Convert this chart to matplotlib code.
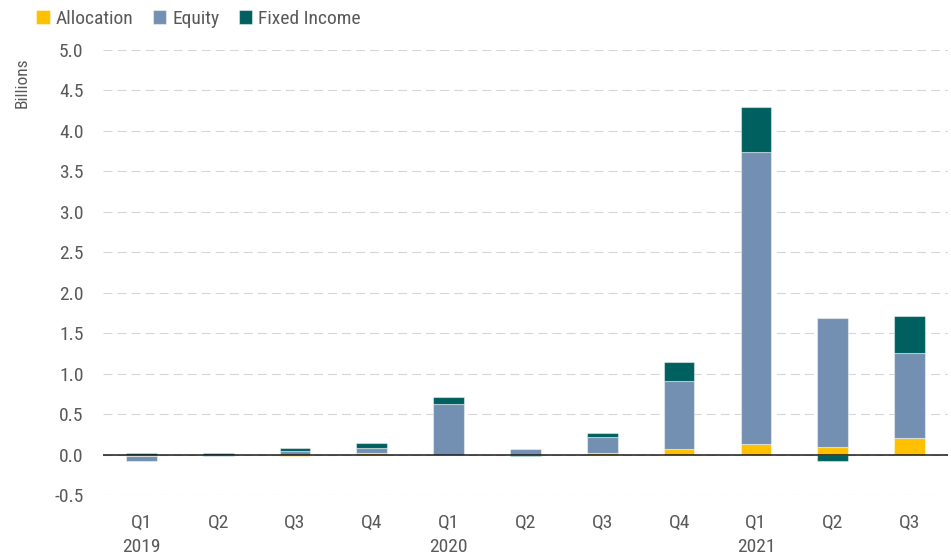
import matplotlib
matplotlib.use("Agg")
import matplotlib.pyplot as plt
import numpy as np
from matplotlib import font_manager

# Quarterly flows by category, in billions
quarters = ["Q1", "Q2", "Q3", "Q4", "Q1", "Q2", "Q3", "Q4", "Q1", "Q2", "Q3"]
years = ["2019", "", "", "", "2020", "", "", "", "2021", "", ""]
allocation = [-0.015, 0.0, -0.02, 0.025, 0.0, 0.0, 0.02, 0.066, 0.125, 0.095, 0.203]
equity = [-0.07, -0.02, 0.05, 0.06, 0.62, 0.07, 0.20, 0.846, 3.61, 1.59, 1.052]
fixed_income = [0.02, 0.02, 0.03, 0.06, 0.095, -0.02, 0.045, 0.235, 0.555, -0.085, 0.453]

series = [("Allocation", allocation, "#FFC000"),
          ("Equity", equity, "#7390B3"),
          ("Fixed Income", fixed_income, "#00605F")]

# Prefer a narrow sans face for the labels
available = {f.name for f in font_manager.fontManager.ttflist}
narrow = [n for n in ("Roboto Condensed", "Liberation Sans Narrow", "Noto Sans Condensed",
                      "Open Sans Condensed", "Arial Narrow") if n in available]
if narrow:
    base_font, fs = narrow[0], 14
else:
    base_font, fs = ("Roboto" if "Roboto" in available else "DejaVu Sans"), 12.5
plt.rcParams["font.family"] = [base_font, "DejaVu Sans"]
plt.rcParams["lines.scale_dashes"] = False

text_color = "#595959"

fig = plt.figure(figsize=(9.51, 5.58), dpi=100)
ax = fig.add_axes([0.1083, 0.1129, 0.8885, 0.7975])

x = np.arange(len(quarters))
pos_base = np.zeros(len(x))
neg_base = np.zeros(len(x))
handles = []
for name, vals, color in series:
    v = np.array(vals)
    bottoms = np.where(v >= 0, pos_base, neg_base)
    h = ax.bar(x, v, width=0.4, bottom=bottoms, color=color,
               edgecolor=(1, 1, 1, 0.45), linewidth=0.8, label=name, zorder=3)
    handles.append(h)
    pos_base = pos_base + np.where(v >= 0, v, 0)
    neg_base = neg_base + np.where(v < 0, v, 0)

ax.axhline(0, color="#1a1a1a", linewidth=1.1, zorder=4)

ax.set_ylim(-0.5, 5.0)
ax.set_xlim(-0.5, len(x) - 0.5)
yt = np.arange(-0.5, 5.01, 0.5)
ax.set_yticks(yt)
ax.set_yticklabels([f"{t:.1f}" for t in yt])
ax.yaxis.grid(True, color="#D6D6D6", linewidth=0.8, linestyle=(0, (6.5, 3.6)), zorder=0)
ax.set_axisbelow(True)

labels = [q + ("\n" + y if y else "") for q, y in zip(quarters, years)]
ax.set_xticks(x)
ax.set_xticklabels(labels, linespacing=1.4)

ax.tick_params(axis="y", length=0, pad=14, labelsize=fs, labelcolor=text_color)
ax.tick_params(axis="x", length=0, pad=14, labelsize=fs, labelcolor=text_color)
for s in ax.spines.values():
    s.set_visible(False)

fig.text(0.023, 0.852, "Billions", rotation=90, ha="center", va="center",
         fontsize=fs - 1.5, color=text_color)

fig.legend(handles=handles, loc="center left", bbox_to_anchor=(0.038, 0.966),
           ncol=3, frameon=False, fontsize=fs, labelcolor=text_color,
           handlelength=0.7, handleheight=0.7, handletextpad=0.3,
           columnspacing=1.0, borderaxespad=0, borderpad=0)

fig.savefig("out.png", dpi=100)
